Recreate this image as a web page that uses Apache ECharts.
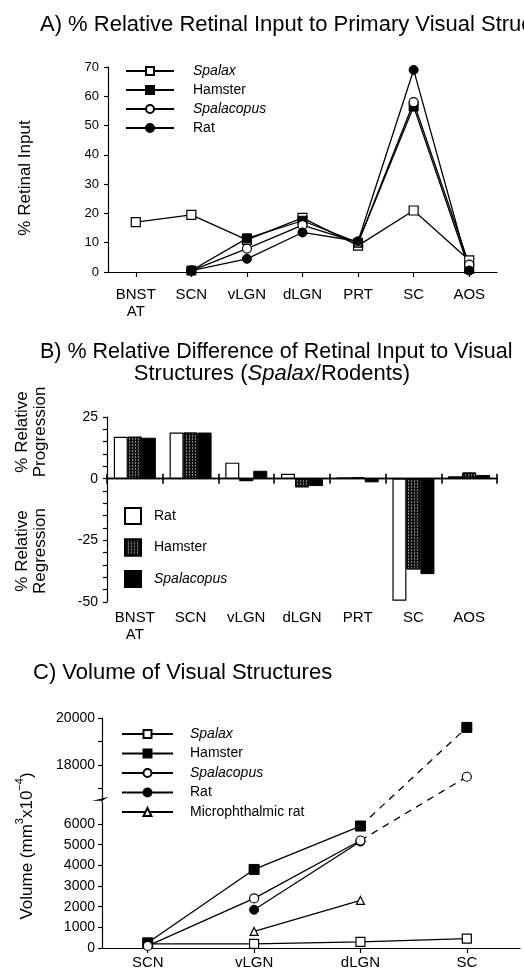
<!DOCTYPE html>
<html>
<head>
<meta charset="utf-8">
<script src="https://cdn.jsdelivr.net/npm/echarts@6/dist/echarts.min.js"></script>
<style>
  html, body { margin: 0; padding: 0; background: #fff; }
  #chart { width: 524px; height: 978px; }
</style>
</head>
<body>
<div id="chart"></div>
<script>
// ---------- A) % relative retinal input ----------
const categoriesA = ['BNST\nAT', 'SCN', 'vLGN', 'dLGN', 'PRT', 'SC', 'AOS'];
const spalaxA     = [17, 19.5, 11, 18.5, 9, 21, 4];
const hamsterA    = [null, 0.5, 11.5, 17.5, 10, 56.5, 1];
const spalacopusA = [null, 0.5, 8, 16, 10, 58, 2.5];
const ratA        = [null, 0.5, 4.5, 13.5, 10.5, 69, 0.5];

// ---------- B) % relative difference (Spalax / rodents) ----------
const categoriesB  = ['BNST\nAT', 'SCN', 'vLGN', 'dLGN', 'PRT', 'SC', 'AOS'];
const ratB         = [17, 18.7, 6.5, 2, 0.5, -49.5, 1];
const hamsterB     = [17, 18.7, -1, -3.5, 0.5, -36.8, 2.5];
const spalacopusB  = [16.6, 18.7, 3.2, -3, -1.5, -38.7, 1.5];

// ---------- C) volume of visual structures ----------
const categoriesC     = ['SCN', 'vLGN', 'dLGN', 'SC'];
const spalaxC         = [200, 200, 300, 450];
const hamsterC        = [250, 3800, 5900, 19600];
const spalacopusC     = [100, 2400, 5200, 17500];
const ratC            = [null, 1850, 5150, null];
const microphthalmicC = [null, 800, 2300, null];
const lowerTicksC     = [0, 1000, 2000, 3000, 4000, 5000, 6000];
const upperTicksC     = [17000, 18000, 19000, 20000];
const upperLabelsC    = [18000, 20000];

// Broken volume axis: linear below the break, re-based above it.
const BREAK_AT = 7300, UPPER_BASE = 18000, UPPER_POS = 8853, UPPER_SCALE = 1.137;
function toAxis(v) { return v <= BREAK_AT ? v : UPPER_POS + (v - UPPER_BASE) * UPPER_SCALE; }
function fromAxis(d) { return d <= BREAK_AT ? d : UPPER_BASE + (d - UPPER_POS) / UPPER_SCALE; }

const FONT = 'Liberation Sans, Arial, sans-serif';
const ITALIC_NAMES = ['Spalax', 'Spalacopus'];

const openMark   = { color: '#fff', borderColor: '#000', borderWidth: 1.2 };
const filledMark = { color: '#000', borderColor: '#000', borderWidth: 1 };
const lineBlack  = { color: '#000', width: 1.3 };

function lineSeriesA(name, data, symbol, style) {
  return {
    type: 'line', name, data, xAxisIndex: 0, yAxisIndex: 0,
    symbol, symbolSize: 9, itemStyle: style, lineStyle: lineBlack,
    connectNulls: false, z: 3
  };
}

// points on panel C between two category indices
function pointsC(arr, from, to) {
  const out = [];
  arr.forEach((v, i) => {
    if (v != null && i >= from && i <= to) out.push([i, toAxis(v)]);
  });
  return out;
}
function lineSeriesC(name, arr, symbol, style, size, from, to) {
  return {
    type: 'line', name, data: pointsC(arr, from, to), xAxisIndex: 4, yAxisIndex: 2,
    symbol, symbolSize: size, itemStyle: style, lineStyle: lineBlack, z: 3
  };
}
function dashedSeriesC(name, arr, symbol, style, size) {
  const pts = pointsC(arr, 2, 3);
  return {
    type: 'line', name, xAxisIndex: 4, yAxisIndex: 2,
    data: [{ value: pts[0], symbol: 'none' }, { value: pts[1] }],
    symbol, symbolSize: size, itemStyle: style,
    lineStyle: { color: '#000', width: 1.3, type: [7, 6] }, z: 3
  };
}

function legendText(gap) {
  return {
    fontFamily: FONT, fontSize: 14, color: '#000',
    rich: {
      it: { fontFamily: FONT, fontSize: 14, fontStyle: 'italic', padding: [0, 0, 0, gap] },
      n:  { fontFamily: FONT, fontSize: 14, padding: [0, 0, 0, gap] }
    }
  };
}
const legendFmt = name => ITALIC_NAMES.includes(name) ? '{it|' + name + '}' : '{n|' + name + '}';

const barLegendNames = { ratBar: 'Rat', hamsterBar: 'Hamster', spalacopusBar: 'Spalacopus' };

const axisLine = { show: true, onZero: false, lineStyle: { color: '#000', width: 1.2 } };
const tickStyle = { color: '#000', width: 1.2 };
const sepTick = { color: '#000', width: 1.6 };

const chart = echarts.init(document.getElementById('chart'), null, { renderer: 'canvas' });

const option = {
  animation: false,
  backgroundColor: '#fff',
  textStyle: { fontFamily: FONT },
  grid: [
    { left: 108, top: 67,  width: 389, height: 205 },
    { left: 107, top: 417, width: 390, height: 185 },
    { left: 102, top: 718, width: 418, height: 230 },
    { left: 107, top: 417, width: 390, height: 185 }   // overlay of panel B for the upper half of separators
  ],
  xAxis: [
    { // 0: panel A
      type: 'category', gridIndex: 0, data: categoriesA, boundaryGap: true, position: 'bottom',
      axisLine, axisTick: { show: true, alignWithLabel: true, length: 5, lineStyle: tickStyle },
      axisLabel: { fontFamily: FONT, fontSize: 15, color: '#000', margin: 14, lineHeight: 17, interval: 0 },
      splitLine: { show: false }
    },
    { // 1: panel B zero line, separators below it
      type: 'category', gridIndex: 1, data: categoriesB, boundaryGap: true, position: 'bottom',
      axisLine: { show: true, onZero: true, lineStyle: { color: '#000', width: 1.4 } },
      axisTick: { show: true, length: 5, interval: 0, lineStyle: sepTick },
      axisLabel: { show: false }, splitLine: { show: false }
    },
    { // 2: panel B separators above the zero line
      type: 'category', gridIndex: 3, data: categoriesB, boundaryGap: true, position: 'bottom',
      axisLine: { show: true, onZero: true, lineStyle: { color: '#000', width: 1.4 } },
      axisTick: { show: true, inside: true, length: 5, interval: 0, lineStyle: sepTick },
      axisLabel: { show: false }, splitLine: { show: false }
    },
    { // 3: panel B category labels along the bottom
      type: 'category', gridIndex: 1, data: categoriesB, boundaryGap: true, position: 'bottom',
      axisLine: { show: false, onZero: false }, axisTick: { show: false },
      axisLabel: { fontFamily: FONT, fontSize: 15, color: '#000', margin: 7, lineHeight: 17, interval: 0 },
      splitLine: { show: false }
    },
    { // 4: panel C
      type: 'value', gridIndex: 2, min: -0.43, max: 3.5, position: 'bottom',
      axisLine,
      axisTick: { show: true, length: 5, lineStyle: tickStyle, customValues: [0, 1, 2, 3] },
      axisLabel: {
        fontFamily: FONT, fontSize: 15, color: '#000', margin: 7,
        customValues: [0, 1, 2, 3], formatter: v => categoriesC[Math.round(v)]
      },
      splitLine: { show: false }
    }
  ],
  yAxis: [
    { // panel A
      type: 'value', gridIndex: 0, min: 0, max: 70, interval: 10, position: 'left',
      axisLine, axisTick: { show: true, length: 4, lineStyle: tickStyle },
      axisLabel: { fontFamily: FONT, fontSize: 13, color: '#000', margin: 9 },
      splitLine: { show: false }
    },
    { // panel B
      type: 'value', gridIndex: 1, min: -50, max: 25, interval: 25, position: 'left',
      axisLine, axisTick: { show: true, length: 4, lineStyle: tickStyle },
      minorTick: { show: true, splitNumber: 5, length: 4, lineStyle: tickStyle },
      axisLabel: { fontFamily: FONT, fontSize: 14, color: '#000', margin: 9 },
      splitLine: { show: false }
    },
    { // panel C (broken axis)
      type: 'value', gridIndex: 2, min: 0, max: toAxis(20000), position: 'left',
      axisLine,
      axisTick: {
        show: true, length: 4, lineStyle: tickStyle,
        customValues: lowerTicksC.concat(upperTicksC.map(toAxis))
      },
      axisLabel: {
        fontFamily: FONT, fontSize: 14, color: '#000', margin: 7,
        customValues: lowerTicksC.concat(upperLabelsC.map(toAxis)),
        formatter: v => String(Math.round(fromAxis(v) / 100) * 100)
      },
      splitLine: { show: false }
    },
    { // hidden twin of panel B's value axis
      type: 'value', gridIndex: 3, min: -50, max: 25, interval: 25, position: 'left',
      show: true, axisLine: { show: false }, axisTick: { show: false }, axisLabel: { show: false },
      splitLine: { show: false }
    }
  ],
  legend: [
    {
      data: ['Spalax', 'Hamster', 'Spalacopus', 'Rat'],
      orient: 'vertical', left: 125, top: 64, padding: 0,
      itemWidth: 48, itemHeight: 10, itemGap: 5,
      textStyle: legendText(14), formatter: legendFmt, selectedMode: false
    },
    {
      data: ['ratBar', 'hamsterBar', 'spalacopusBar'],
      orient: 'vertical', left: 124, top: 507, padding: 0,
      itemWidth: 16, itemHeight: 16, itemGap: 13.5, icon: 'rect',
      textStyle: legendText(8), formatter: name => legendFmt(barLegendNames[name]), selectedMode: false
    },
    {
      data: ['Spalax', 'Hamster', 'Spalacopus', 'Rat', 'Microphthalmic rat'],
      orient: 'vertical', left: 121, top: 727, padding: 0,
      itemWidth: 51, itemHeight: 10, itemGap: 5.5,
      textStyle: legendText(12), formatter: legendFmt, selectedMode: false
    }
  ],
  series: [
    // panel A
    lineSeriesA('Spalax', spalaxA, 'rect', openMark),
    lineSeriesA('Hamster', hamsterA, 'rect', filledMark),
    lineSeriesA('Spalacopus', spalacopusA, 'circle', openMark),
    lineSeriesA('Rat', ratA, 'circle', filledMark),
    // panel B
    {
      type: 'bar', name: 'ratBar', data: ratB, xAxisIndex: 1, yAxisIndex: 1,
      barWidth: 14, barGap: '0%',
      itemStyle: { color: '#fff', borderColor: '#000', borderWidth: 1.2 }
    },
    {
      type: 'bar', name: 'hamsterBar', data: hamsterB, xAxisIndex: 1, yAxisIndex: 1,
      barWidth: 14, barGap: '0%',
      itemStyle: {
        color: '#111', borderColor: '#000', borderWidth: 1,
        decal: { symbol: 'rect', symbolSize: 1, color: 'rgba(255,255,255,0.45)', dashArrayX: [1, 2], dashArrayY: [2, 1] }
      }
    },
    {
      type: 'bar', name: 'spalacopusBar', data: spalacopusB, xAxisIndex: 1, yAxisIndex: 1,
      barWidth: 14, barGap: '0%',
      itemStyle: { color: '#000', borderColor: '#000', borderWidth: 1 }
    },
    // panel C
    lineSeriesC('Spalax', spalaxC, 'rect', openMark, 9, 0, 3),
    lineSeriesC('Hamster', hamsterC, 'rect', filledMark, 10, 0, 2),
    dashedSeriesC('Hamster SC', hamsterC, 'rect', filledMark, 10),
    lineSeriesC('Rat', ratC, 'circle', filledMark, 9, 0, 3),
    lineSeriesC('Spalacopus', spalacopusC, 'circle', openMark, 9, 0, 2),
    dashedSeriesC('Spalacopus SC', spalacopusC, 'circle', openMark, 9),
    lineSeriesC('Microphthalmic rat', microphthalmicC, 'triangle', openMark, 8, 0, 3)
  ]
};

chart.setOption(option);

// titles, rotated axis names and the break marker on the volume axis
const brkTop = chart.convertToPixel({ gridIndex: 2 }, [-0.43, toAxis(16600)]);
const brkBot = chart.convertToPixel({ gridIndex: 2 }, [-0.43, 7050]);
const bx = brkTop[0], y1 = brkTop[1], y2 = brkBot[1];
const titleFont = '22px ' + FONT;
const nameFont = '17px ' + FONT;

chart.setOption({
  graphic: [
    { type: 'text', x: 40, y: 25, style: { text: 'A) % Relative Retinal Input to Primary Visual Structures', font: titleFont, fill: '#000', verticalAlign: 'middle' } },
    { type: 'text', x: 40, y: 352, style: { text: 'B) % Relative Difference of Retinal Input to Visual', font: '21.5px ' + FONT, fill: '#000', verticalAlign: 'middle' } },
    { type: 'text', x: 272, y: 374, style: {
        text: '{a|Structures (}{i|Spalax}{a|/Rodents)}', align: 'center', verticalAlign: 'middle',
        rich: { a: { font: titleFont, fill: '#000' }, i: { font: 'italic ' + titleFont, fill: '#000' } } } },
    { type: 'text', x: 33, y: 673, style: { text: 'C) Volume of Visual Structures', font: titleFont, fill: '#000', verticalAlign: 'middle' } },
    { type: 'text', x: 25, y: 178, rotation: Math.PI / 2, style: { text: '% Retinal Input', font: nameFont, fill: '#000', align: 'center', verticalAlign: 'middle' } },
    { type: 'text', x: 31, y: 432, rotation: Math.PI / 2, style: { text: '% Relative\nProgression', font: nameFont, lineHeight: 18, fill: '#000', align: 'center', verticalAlign: 'middle' } },
    { type: 'text', x: 31, y: 551, rotation: Math.PI / 2, style: { text: '% Relative\nRegression', font: nameFont, lineHeight: 18, fill: '#000', align: 'center', verticalAlign: 'middle' } },
    { type: 'text', x: 25, y: 846, rotation: Math.PI / 2, style: {
        text: '{a|Volume (mm}{s|3}{a|x10}{s|−4}{a|)}', align: 'center', verticalAlign: 'middle',
        rich: {
          a: { font: nameFont, fill: '#000', lineHeight: 22, verticalAlign: 'bottom' },
          s: { font: '11px ' + FONT, fill: '#000', lineHeight: 12, verticalAlign: 'top' }
        } } },
    { type: 'rect', shape: { x: bx - 4, y: y1, width: 8, height: y2 - y1 }, style: { fill: '#fff' }, z: 50 },
    { type: 'polyline', shape: { points: [[bx, y1], [bx, y1 + 2], [bx - 4, (y1 + y2) / 2], [bx + 3, y2 - 4], [bx, y2 - 2], [bx, y2]] },
      style: { stroke: '#000', lineWidth: 1.3, fill: null }, z: 51 }
  ]
});
</script>
</body>
</html>
